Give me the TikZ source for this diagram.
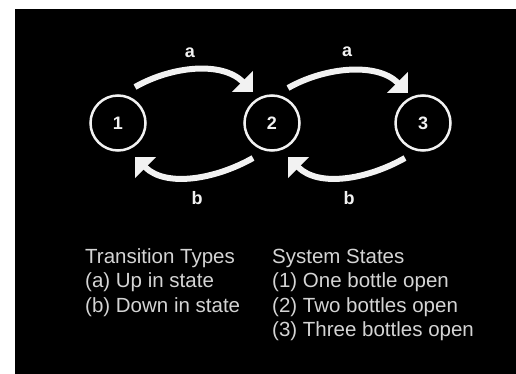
\documentclass[tikz,border=0pt]{standalone}
\usepackage{fontspec}
\setmainfont{Liberation Sans}
\usetikzlibrary{arrows.meta}
\definecolor{fg}{HTML}{F2F2F2}
\definecolor{txt}{HTML}{D4D4D4}
\begin{document}
\begin{tikzpicture}[x=1pt,y=-1pt,
  state/.style={circle,draw=fg,line width=2.5pt,minimum size=55pt,inner sep=0pt,text=fg,font=\fontsize{18}{20}\selectfont\bfseries},
  trans/.style={draw=fg,line width=6pt,-{Triangle[width=29pt,length=15pt,fill=fg]}},
  lbl/.style={text=fg,font=\fontsize{18}{20}\selectfont\bfseries,inner sep=0pt},
  legend/.style={text=txt,font=\fontsize{20.5}{24.5}\selectfont,anchor=base west,inner sep=0pt}]
\useasboundingbox (0,0) rectangle (516,374);
\fill[black] (15,9) rectangle (516,374);
\node[state] (c1) at (118,123) {1};
\node[state] (c2) at (272,123) {2};
\node[state] (c3) at (423,123) {3};
\coordinate (t12) at (135,87);
\coordinate (h12) at (253,92);
\coordinate (t23) at (288,88);
\coordinate (h23) at (408,93);
\coordinate (t21) at (253,158);
\coordinate (h21) at (135,157);
\coordinate (t32) at (405,158);
\coordinate (h32) at (288,157);
\draw[trans] (t12) .. controls (172,66) and (222,61) .. (h12);
\draw[trans] (t23) .. controls (325,67) and (377,62) .. (h23);
\draw[trans] (t21) .. controls (216,179) and (166,188) .. (h21);
\draw[trans] (t32) .. controls (368,179) and (319,188) .. (h32);
\node[lbl] (la1) at (190,53) {a};
\node[lbl] (la2) at (347,52) {a};
\node[lbl] (lb1) at (197,198) {b};
\node[lbl] (lb2) at (349,198) {b};
\node[legend] (ty0) at (85,263) {Transition Types};
\node[legend] (ty1) at (85,287.5) {(a) Up in state};
\node[legend] (ty2) at (85,312) {(b) Down in state};
\node[legend] (st0) at (272,263) {System States};
\node[legend] (st1) at (272,287.5) {(1) One bottle open};
\node[legend] (st2) at (272,312) {(2) Two bottles open};
\node[legend] (st3) at (272,336.5) {(3) Three bottles open};
\end{tikzpicture}
\end{document}
